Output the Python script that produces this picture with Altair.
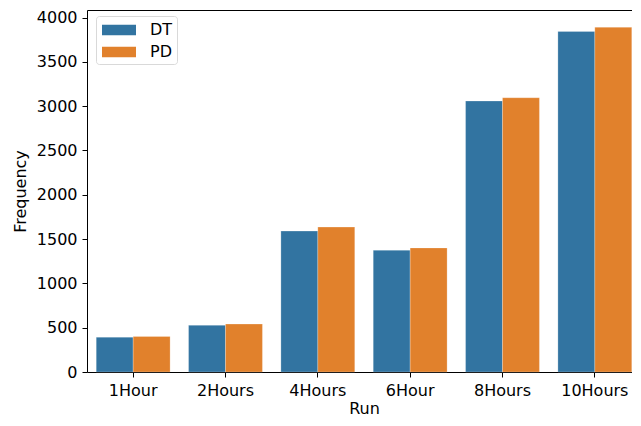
import altair as alt
import pandas as pd

runs = ["1Hour", "2Hours", "4Hours", "6Hour", "8Hours", "10Hours"]
dt_values = [393, 527, 1590, 1374, 3058, 3843]
pd_values = [401, 541, 1635, 1400, 3095, 3890]
series = ["DT", "PD"]
colors = ["#3274a1", "#e1812c"]

rows = []
for r, a, b in zip(runs, dt_values, pd_values):
    rows.append({"Run": r, "Method": "DT", "Frequency": a})
    rows.append({"Run": r, "Method": "PD", "Frequency": b})
df = pd.DataFrame(rows)

FONT = "DejaVu Sans"
FS = 16

bars = alt.Chart(df).mark_bar(stroke="white", strokeWidth=0.4, strokeOpacity=0.6).encode(
    x=alt.X("Run:N", sort=runs, title="Run",
            scale=alt.Scale(paddingInner=0.2, paddingOuter=0.1),
            axis=alt.Axis(labelAngle=0, labelFontSize=FS, titleFontSize=FS,
                          labelFont=FONT, titleFont=FONT, tickSize=5,
                          labelColor="black", titleColor="black",
                          domain=False, tickColor="black", labelPadding=5,
                          titlePadding=2, titleFontWeight="normal")),
    xOffset=alt.XOffset("Method:N", sort=series, scale=alt.Scale(paddingInner=0, paddingOuter=0)),
    y=alt.Y("Frequency:Q", title="Frequency",
            scale=alt.Scale(domain=[0, 4085], nice=False),
            axis=alt.Axis(values=[0, 500, 1000, 1500, 2000, 2500, 3000, 3500, 4000],
                          format="d",
                          labelFontSize=FS, titleFontSize=FS, labelFont=FONT, titleFont=FONT,
                          tickSize=5, grid=False, domain=False, tickColor="black",
                          labelColor="black", titleColor="black", labelPadding=5,
                          titlePadding=8, titleFontWeight="normal")),
    color=alt.Color("Method:N", sort=series, title=None,
                    scale=alt.Scale(domain=series, range=colors),
                    legend=alt.Legend(orient="none", legendX=9, legendY=6,
                                      symbolType="M-0.8,-0.535L2.6,-0.535L2.6,0.535L-0.8,0.535Z",
                                      symbolSize=400, symbolStrokeWidth=0,
                                      labelFontSize=FS, labelFont=FONT, labelColor="black",
                                      labelOffset=30, rowPadding=4,
                                      padding=4, strokeColor="#d9d9d9", fillColor="white",
                                      cornerRadius=3)),
)

chart = bars.properties(width=554, height=362).configure_view(
    stroke="black", strokeWidth=1
).properties(
    autosize=alt.AutoSizeParams(type="none"),
    padding={"left": 79, "top": 2, "right": -9, "bottom": 46},
)

chart.save("out.html", embed_options={"renderer": "svg", "actions": False})
